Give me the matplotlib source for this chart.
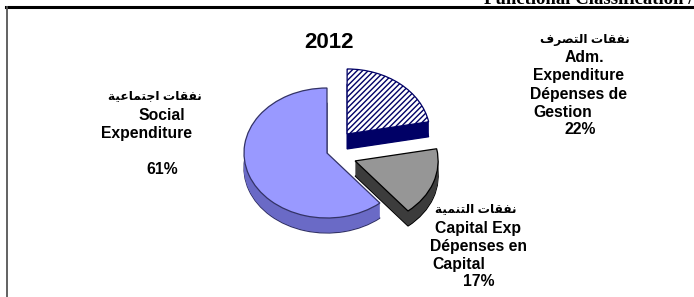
import matplotlib
matplotlib.use("Agg")
import matplotlib.pyplot as plt
from matplotlib.lines import Line2D

# --- données ---------------------------------------------------------------
year = "2012"
header = "Functional Classification /"
shares = [22, 17, 61]                  # Adm. / Capital / Social
pct_labels = ["22%", "17%", "61%"]
explode = [0.38, 0.36, 0.0]

# arabe en formes de présentation, ordre visuel (matplotlib ne fait pas le shaping)
ar_adm = "\uFED1\uFEAE\uFEBC\uFE98\uFEDF\uFE8D \uFE95\uFE8E\uFED8\uFED4\uFEE7"      # نفقات التصرف
ar_cap = "\uFE94\uFEF4\uFEE4\uFEE8\uFE98\uFEDF\uFE8D \uFE95\uFE8E\uFED8\uFED4\uFEE7"  # نفقات التنمية
ar_soc = "\uFE94\uFEF4\uFECB\uFE8E\uFEE4\uFE98\uFE9F\uFE8D \uFE95\uFE8E\uFED8\uFED4\uFEE7"  # نفقات اجتماعية

adm_lines = [ar_adm, "Adm.", "Expenditure", "Dépenses de", "Gestion", pct_labels[0]]
cap_lines = [ar_cap, "Capital Exp", "Dépenses en", "Capital", pct_labels[1]]
soc_lines = [ar_soc, "Social", "Expenditure", pct_labels[2]]

top_colors = ["white", "#969696", "#9999FF"]
side_colors = ["#000066", "#3C3C3C", "#6A6AC6"]
edge_colors = ["#000066", "black", "#333366"]

W, H = 694, 297
fig = plt.figure(figsize=(W / 100, H / 100), dpi=100)

# axe du camembert : 1 unité = 83 px en x, 65 px en y (vue inclinée)
cx, cy = 327, 153
rx, ry = 83, 65
ax = fig.add_axes([(cx - 3 * rx) / W, (H - cy - 2 * ry) / H, 6 * rx / W, 4 * ry / H])

depth = 15 / ry
n = 30
for k in range(n, -1, -1):
    off = -depth * k / n
    wedges, _ = ax.pie(shares, explode=explode, startangle=90, counterclock=False,
                       center=(0, off), colors=side_colors if k else top_colors,
                       wedgeprops=dict(linewidth=0))
    for i, w in enumerate(wedges):
        if k == n or k == 0:
            w.set_edgecolor(edge_colors[i])
            w.set_linewidth(0.9)
    if k == 0:
        wedges[0].set_hatch("//////")
        wedges[0].set_edgecolor("#000066")

ax.set_aspect("auto")
ax.set_xlim(-3, 3)
ax.set_ylim(-2, 2)
ax.axis("off")


def px(x, y):
    return x / W, 1 - y / H


def draw_label(lines, places):
    for j, (txt, (x, y, ha)) in enumerate(zip(lines, places)):
        fig.text(*px(x, y), txt, ha=ha, va="center", fontweight="bold",
                 fontsize=8.8 if j == 0 else 11.3,
                 family=["Liberation Sans", "DejaVu Sans"])


draw_label(adm_lines, [(585, 40, "center"), (584, 58, "center"), (578, 76, "center"),
                       (578, 94, "center"), (533, 112, "left"), (580, 130, "center")])
draw_label(cap_lines, [(476, 209, "center"), (478, 229, "center"), (478, 247, "center"),
                       (432, 265, "left"), (479, 282, "center")])
draw_label(soc_lines, [(155, 96, "center"), (162, 115, "center"), (147, 133, "center"),
                       (162, 170, "center")])

fig.text(*px(329, 42), year, ha="center", va="center", fontsize=16, fontweight="bold",
         family="Liberation Sans")
fig.text(*px(693, 4), header, ha="right", va="baseline", fontsize=13.5, fontweight="bold",
         family="Liberation Serif")

# cadre
fig.add_artist(Line2D([6 / W, 1], [1 - 7 / H, 1 - 7 / H], color="black", lw=2.2,
                      transform=fig.transFigure))
fig.add_artist(Line2D([6.5 / W, 6.5 / W], [0, 1 - 7 / H], color="#555555", lw=1.3,
                      transform=fig.transFigure))

fig.savefig("out.png", dpi=100)
